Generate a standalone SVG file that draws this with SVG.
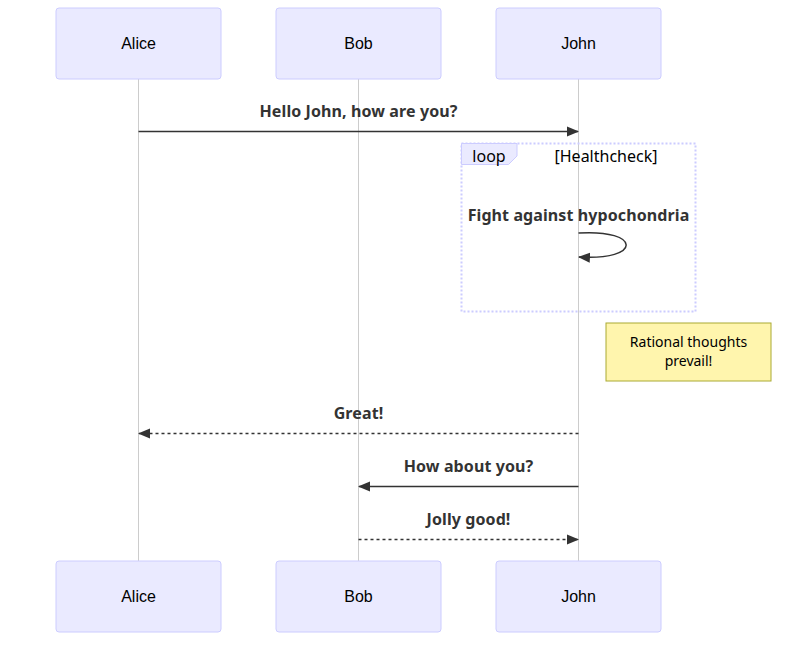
<svg xmlns="http://www.w3.org/2000/svg" width="790" height="649" viewBox="0 0 790 649">
<style>
.actor{fill:#eaeaff;stroke:#ccccff;stroke-width:1}
.atext{font-family:"Liberation Sans",Arial,sans-serif;font-size:16px;fill:#000;text-anchor:middle;dominant-baseline:central}
.life{stroke:#999;stroke-width:0.5}
.msg{font-family:"Noto Sans","DejaVu Sans",sans-serif;font-weight:bold;font-size:16px;fill:#333;text-anchor:middle;letter-spacing:0.1px}
.line{stroke:#333;stroke-width:1.5;fill:none}
.dash{stroke-dasharray:3,3}
.loop{fill:none;stroke:#ccccff;stroke-width:2;stroke-dasharray:2,2}
.lbl{font-family:"Noto Sans","DejaVu Sans",sans-serif;font-size:16px;fill:#000}
.note{fill:#fff5ad;stroke:#aaaa33;stroke-width:1}
.ntext{font-family:"Noto Sans","DejaVu Sans",sans-serif;font-size:14px;fill:#000;text-anchor:middle}
</style>
<defs>
<marker id="arrow" viewBox="0 0 12 12" refX="11" refY="6" markerWidth="12" markerHeight="12" markerUnits="userSpaceOnUse" orient="auto">
<path d="M0,1 L12,6 L0,11 z" fill="#333"/>
</marker>
</defs>
<g id="lifelines">
<line class="life" x1="138.5" y1="79" x2="138.5" y2="561"/>
<line class="life" x1="358.5" y1="79" x2="358.5" y2="561"/>
<line class="life" x1="578.5" y1="79" x2="578.5" y2="561"/>
</g>
<g id="actor-alice-top"><rect class="actor" x="56" y="8" width="165" height="71" rx="3"/><text class="atext" x="138.5" y="43.5">Alice</text></g>
<g id="actor-bob-top"><rect class="actor" x="276" y="8" width="165" height="71" rx="3"/><text class="atext" x="358.5" y="43.5">Bob</text></g>
<g id="actor-john-top"><rect class="actor" x="496" y="8" width="165" height="71" rx="3"/><text class="atext" x="578.5" y="43.5">John</text></g>
<g id="actor-alice-bottom"><rect class="actor" x="56" y="561" width="165" height="71" rx="3"/><text class="atext" x="138.5" y="596.5">Alice</text></g>
<g id="actor-bob-bottom"><rect class="actor" x="276" y="561" width="165" height="71" rx="3"/><text class="atext" x="358.5" y="596.5">Bob</text></g>
<g id="actor-john-bottom"><rect class="actor" x="496" y="561" width="165" height="71" rx="3"/><text class="atext" x="578.5" y="596.5">John</text></g>
<g id="loop">
<rect class="loop" x="461.5" y="143.5" width="234" height="168"/>
<polygon points="461.5,143.5 517,143.5 517,156 508.5,164.5 461.5,164.5" fill="#eaeaff" stroke="#ccccff" stroke-width="1"/>
<text class="lbl" x="489" y="162" text-anchor="middle">loop</text>
<text class="lbl" x="606" y="162" text-anchor="middle">[Healthcheck]</text>
</g>
<g id="note">
<rect class="note" x="606" y="323" width="165" height="58"/>
<text class="ntext" x="688.5" y="347">Rational thoughts</text>
<text class="ntext" x="688.5" y="366">prevail!</text>
</g>
<g id="connectors">
<text class="msg" x="358.5" y="117">Hello John, how are you?</text>
<line class="line" x1="138.5" y1="131.5" x2="578" y2="131.5" marker-end="url(#arrow)"/>
<text class="msg" x="578.5" y="221">Fight against hypochondria</text>
<path class="line" d="M578.5,233 C642,229 642,261 579,257" marker-end="url(#arrow)"/>
<text class="msg" x="358.5" y="419">Great!</text>
<line class="line dash" x1="578.5" y1="433.5" x2="139" y2="433.5" marker-end="url(#arrow)"/>
<text class="msg" x="468.5" y="472">How about you?</text>
<line class="line" x1="578.5" y1="486.5" x2="359" y2="486.5" marker-end="url(#arrow)"/>
<text class="msg" x="468.5" y="525">Jolly good!</text>
<line class="line dash" x1="358.5" y1="539.5" x2="578" y2="539.5" marker-end="url(#arrow)"/>
</g>
</svg>
